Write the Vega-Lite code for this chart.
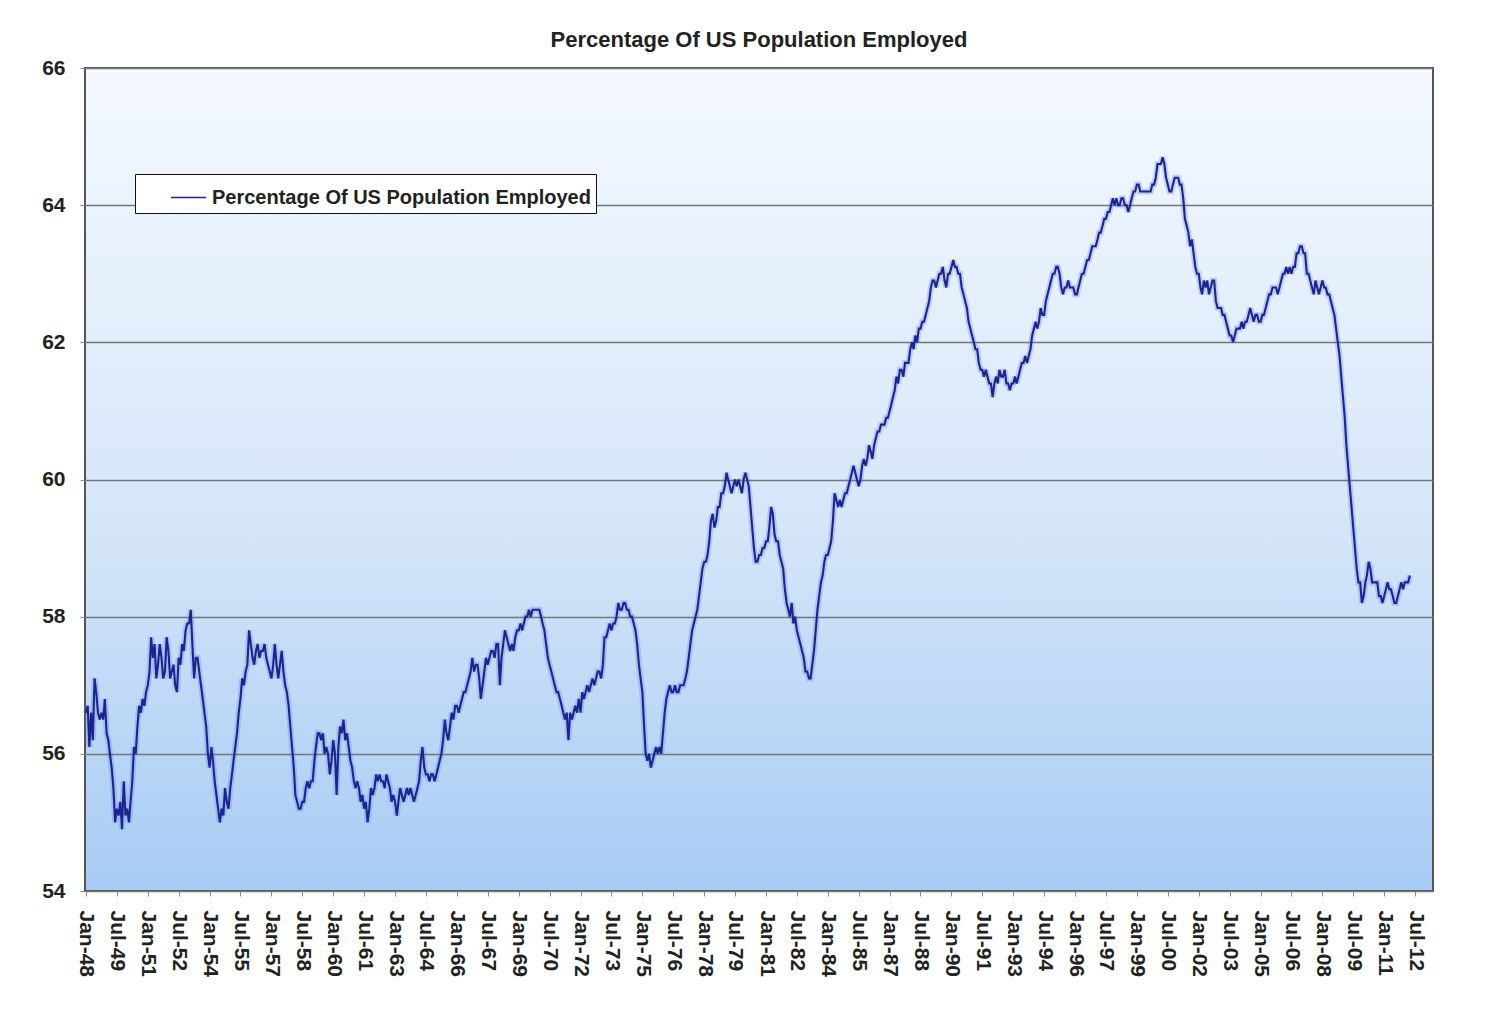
{
  "$schema": "https://vega.github.io/schema/vega-lite/v6.json",
  "width": 1348,
  "height": 823,
  "autosize": {"type": "none"},
  "padding": {"left": 85, "top": 68, "right": 66, "bottom": 143},
  "background": "white",
  "title": {
    "text": "Percentage Of US Population Employed",
    "font": "Liberation Sans",
    "fontSize": 22,
    "fontWeight": "bold",
    "color": "#222222",
    "anchor": "middle",
    "offset": 5
  },
  "config": {
    "font": "Liberation Sans",
    "view": {
      "stroke": "#555555",
      "strokeWidth": 2,
      "fill": {
        "gradient": "linear",
        "x1": 0, "y1": 0, "x2": 0, "y2": 1,
        "stops": [
          {"offset": 0, "color": "#f4f9ff"},
          {"offset": 0.55, "color": "#d6e6f9"},
          {"offset": 1, "color": "#a7cbf4"}
        ]
      }
    }
  },
  "data": {
    "values": [
      {"t":"1948-01","v":56.6},{"t":"1948-02","v":56.7},{"t":"1948-03","v":56.1},{"t":"1948-04","v":56.6},{"t":"1948-05","v":56.2},{"t":"1948-06","v":57.1},{"t":"1948-07","v":56.9},{"t":"1948-08","v":56.6},{"t":"1948-09","v":56.5},{"t":"1948-10","v":56.6},{"t":"1948-11","v":56.5},{"t":"1948-12","v":56.8},
      {"t":"1949-01","v":56.3},{"t":"1949-02","v":56.2},{"t":"1949-03","v":56.0},{"t":"1949-04","v":55.8},{"t":"1949-05","v":55.5},{"t":"1949-06","v":55.0},{"t":"1949-07","v":55.2},{"t":"1949-08","v":55.1},{"t":"1949-09","v":55.3},{"t":"1949-10","v":54.9},{"t":"1949-11","v":55.6},{"t":"1949-12","v":55.1},
      {"t":"1950-01","v":55.2},{"t":"1950-02","v":55.0},{"t":"1950-03","v":55.3},{"t":"1950-04","v":55.6},{"t":"1950-05","v":56.1},{"t":"1950-06","v":56.0},{"t":"1950-07","v":56.4},{"t":"1950-08","v":56.7},{"t":"1950-09","v":56.6},{"t":"1950-10","v":56.8},{"t":"1950-11","v":56.7},{"t":"1950-12","v":56.9},
      {"t":"1951-01","v":57.0},{"t":"1951-02","v":57.2},{"t":"1951-03","v":57.7},{"t":"1951-04","v":57.4},{"t":"1951-05","v":57.6},{"t":"1951-06","v":57.1},{"t":"1951-07","v":57.3},{"t":"1951-08","v":57.6},{"t":"1951-09","v":57.4},{"t":"1951-10","v":57.1},{"t":"1951-11","v":57.2},{"t":"1951-12","v":57.7},
      {"t":"1952-01","v":57.5},{"t":"1952-02","v":57.1},{"t":"1952-03","v":57.2},{"t":"1952-04","v":57.3},{"t":"1952-05","v":57.0},{"t":"1952-06","v":56.9},{"t":"1952-07","v":57.4},{"t":"1952-08","v":57.3},{"t":"1952-09","v":57.6},{"t":"1952-10","v":57.5},{"t":"1952-11","v":57.8},{"t":"1952-12","v":57.9},
      {"t":"1953-01","v":57.9},{"t":"1953-02","v":58.1},{"t":"1953-03","v":57.6},{"t":"1953-04","v":57.1},{"t":"1953-05","v":57.4},{"t":"1953-06","v":57.4},{"t":"1953-07","v":57.2},{"t":"1953-08","v":57.0},{"t":"1953-09","v":56.8},{"t":"1953-10","v":56.6},{"t":"1953-11","v":56.4},{"t":"1953-12","v":56.0},
      {"t":"1954-01","v":55.8},{"t":"1954-02","v":56.1},{"t":"1954-03","v":55.9},{"t":"1954-04","v":55.6},{"t":"1954-05","v":55.4},{"t":"1954-06","v":55.2},{"t":"1954-07","v":55.0},{"t":"1954-08","v":55.2},{"t":"1954-09","v":55.1},{"t":"1954-10","v":55.5},{"t":"1954-11","v":55.3},{"t":"1954-12","v":55.2},
      {"t":"1955-01","v":55.5},{"t":"1955-02","v":55.7},{"t":"1955-03","v":55.9},{"t":"1955-04","v":56.1},{"t":"1955-05","v":56.3},{"t":"1955-06","v":56.6},{"t":"1955-07","v":56.8},{"t":"1955-08","v":57.1},{"t":"1955-09","v":57.0},{"t":"1955-10","v":57.2},{"t":"1955-11","v":57.3},{"t":"1955-12","v":57.8},
      {"t":"1956-01","v":57.6},{"t":"1956-02","v":57.4},{"t":"1956-03","v":57.3},{"t":"1956-04","v":57.5},{"t":"1956-05","v":57.6},{"t":"1956-06","v":57.4},{"t":"1956-07","v":57.5},{"t":"1956-08","v":57.5},{"t":"1956-09","v":57.6},{"t":"1956-10","v":57.4},{"t":"1956-11","v":57.3},{"t":"1956-12","v":57.2},
      {"t":"1957-01","v":57.1},{"t":"1957-02","v":57.3},{"t":"1957-03","v":57.6},{"t":"1957-04","v":57.3},{"t":"1957-05","v":57.1},{"t":"1957-06","v":57.3},{"t":"1957-07","v":57.5},{"t":"1957-08","v":57.2},{"t":"1957-09","v":57.0},{"t":"1957-10","v":56.9},{"t":"1957-11","v":56.7},{"t":"1957-12","v":56.4},
      {"t":"1958-01","v":56.1},{"t":"1958-02","v":55.8},{"t":"1958-03","v":55.4},{"t":"1958-04","v":55.3},{"t":"1958-05","v":55.2},{"t":"1958-06","v":55.2},{"t":"1958-07","v":55.3},{"t":"1958-08","v":55.3},{"t":"1958-09","v":55.5},{"t":"1958-10","v":55.6},{"t":"1958-11","v":55.5},{"t":"1958-12","v":55.6},
      {"t":"1959-01","v":55.6},{"t":"1959-02","v":55.9},{"t":"1959-03","v":56.1},{"t":"1959-04","v":56.3},{"t":"1959-05","v":56.3},{"t":"1959-06","v":56.2},{"t":"1959-07","v":56.3},{"t":"1959-08","v":56.0},{"t":"1959-09","v":56.1},{"t":"1959-10","v":56.0},{"t":"1959-11","v":55.7},{"t":"1959-12","v":55.9},
      {"t":"1960-01","v":56.2},{"t":"1960-02","v":56.0},{"t":"1960-03","v":55.4},{"t":"1960-04","v":56.1},{"t":"1960-05","v":56.4},{"t":"1960-06","v":56.3},{"t":"1960-07","v":56.5},{"t":"1960-08","v":56.2},{"t":"1960-09","v":56.3},{"t":"1960-10","v":56.1},{"t":"1960-11","v":55.9},{"t":"1960-12","v":55.8},
      {"t":"1961-01","v":55.6},{"t":"1961-02","v":55.5},{"t":"1961-03","v":55.6},{"t":"1961-04","v":55.5},{"t":"1961-05","v":55.3},{"t":"1961-06","v":55.4},{"t":"1961-07","v":55.2},{"t":"1961-08","v":55.3},{"t":"1961-09","v":55.0},{"t":"1961-10","v":55.2},{"t":"1961-11","v":55.5},{"t":"1961-12","v":55.4},
      {"t":"1962-01","v":55.5},{"t":"1962-02","v":55.7},{"t":"1962-03","v":55.6},{"t":"1962-04","v":55.7},{"t":"1962-05","v":55.6},{"t":"1962-06","v":55.6},{"t":"1962-07","v":55.5},{"t":"1962-08","v":55.7},{"t":"1962-09","v":55.6},{"t":"1962-10","v":55.5},{"t":"1962-11","v":55.3},{"t":"1962-12","v":55.4},
      {"t":"1963-01","v":55.3},{"t":"1963-02","v":55.1},{"t":"1963-03","v":55.3},{"t":"1963-04","v":55.5},{"t":"1963-05","v":55.4},{"t":"1963-06","v":55.3},{"t":"1963-07","v":55.4},{"t":"1963-08","v":55.5},{"t":"1963-09","v":55.4},{"t":"1963-10","v":55.5},{"t":"1963-11","v":55.4},{"t":"1963-12","v":55.3},
      {"t":"1964-01","v":55.4},{"t":"1964-02","v":55.5},{"t":"1964-03","v":55.6},{"t":"1964-04","v":55.9},{"t":"1964-05","v":56.1},{"t":"1964-06","v":55.8},{"t":"1964-07","v":55.7},{"t":"1964-08","v":55.7},{"t":"1964-09","v":55.6},{"t":"1964-10","v":55.7},{"t":"1964-11","v":55.7},{"t":"1964-12","v":55.6},
      {"t":"1965-01","v":55.7},{"t":"1965-02","v":55.8},{"t":"1965-03","v":55.9},{"t":"1965-04","v":56.0},{"t":"1965-05","v":56.2},{"t":"1965-06","v":56.5},{"t":"1965-07","v":56.3},{"t":"1965-08","v":56.2},{"t":"1965-09","v":56.4},{"t":"1965-10","v":56.6},{"t":"1965-11","v":56.5},{"t":"1965-12","v":56.7},
      {"t":"1966-01","v":56.7},{"t":"1966-02","v":56.6},{"t":"1966-03","v":56.7},{"t":"1966-04","v":56.8},{"t":"1966-05","v":56.9},{"t":"1966-06","v":56.9},{"t":"1966-07","v":57.0},{"t":"1966-08","v":57.1},{"t":"1966-09","v":57.2},{"t":"1966-10","v":57.4},{"t":"1966-11","v":57.2},{"t":"1966-12","v":57.3},
      {"t":"1967-01","v":57.3},{"t":"1967-02","v":57.1},{"t":"1967-03","v":56.8},{"t":"1967-04","v":57.0},{"t":"1967-05","v":57.2},{"t":"1967-06","v":57.4},{"t":"1967-07","v":57.3},{"t":"1967-08","v":57.4},{"t":"1967-09","v":57.5},{"t":"1967-10","v":57.5},{"t":"1967-11","v":57.4},{"t":"1967-12","v":57.6},
      {"t":"1968-01","v":57.6},{"t":"1968-02","v":57.0},{"t":"1968-03","v":57.4},{"t":"1968-04","v":57.6},{"t":"1968-05","v":57.8},{"t":"1968-06","v":57.7},{"t":"1968-07","v":57.6},{"t":"1968-08","v":57.5},{"t":"1968-09","v":57.6},{"t":"1968-10","v":57.5},{"t":"1968-11","v":57.7},{"t":"1968-12","v":57.8},
      {"t":"1969-01","v":57.8},{"t":"1969-02","v":57.9},{"t":"1969-03","v":57.8},{"t":"1969-04","v":57.9},{"t":"1969-05","v":58.0},{"t":"1969-06","v":58.0},{"t":"1969-07","v":58.1},{"t":"1969-08","v":58.0},{"t":"1969-09","v":58.1},{"t":"1969-10","v":58.1},{"t":"1969-11","v":58.1},{"t":"1969-12","v":58.1},
      {"t":"1970-01","v":58.1},{"t":"1970-02","v":58.0},{"t":"1970-03","v":57.9},{"t":"1970-04","v":57.8},{"t":"1970-05","v":57.6},{"t":"1970-06","v":57.4},{"t":"1970-07","v":57.3},{"t":"1970-08","v":57.2},{"t":"1970-09","v":57.1},{"t":"1970-10","v":57.0},{"t":"1970-11","v":56.9},{"t":"1970-12","v":56.9},
      {"t":"1971-01","v":56.8},{"t":"1971-02","v":56.7},{"t":"1971-03","v":56.6},{"t":"1971-04","v":56.5},{"t":"1971-05","v":56.6},{"t":"1971-06","v":56.2},{"t":"1971-07","v":56.6},{"t":"1971-08","v":56.5},{"t":"1971-09","v":56.6},{"t":"1971-10","v":56.7},{"t":"1971-11","v":56.6},{"t":"1971-12","v":56.8},
      {"t":"1972-01","v":56.6},{"t":"1972-02","v":56.9},{"t":"1972-03","v":56.8},{"t":"1972-04","v":56.9},{"t":"1972-05","v":57.0},{"t":"1972-06","v":56.9},{"t":"1972-07","v":57.0},{"t":"1972-08","v":57.1},{"t":"1972-09","v":57.0},{"t":"1972-10","v":57.1},{"t":"1972-11","v":57.2},{"t":"1972-12","v":57.2},
      {"t":"1973-01","v":57.1},{"t":"1973-02","v":57.3},{"t":"1973-03","v":57.7},{"t":"1973-04","v":57.7},{"t":"1973-05","v":57.8},{"t":"1973-06","v":57.9},{"t":"1973-07","v":57.8},{"t":"1973-08","v":57.9},{"t":"1973-09","v":57.9},{"t":"1973-10","v":58.0},{"t":"1973-11","v":58.2},{"t":"1973-12","v":58.1},
      {"t":"1974-01","v":58.1},{"t":"1974-02","v":58.2},{"t":"1974-03","v":58.2},{"t":"1974-04","v":58.1},{"t":"1974-05","v":58.1},{"t":"1974-06","v":58.0},{"t":"1974-07","v":58.0},{"t":"1974-08","v":57.9},{"t":"1974-09","v":57.8},{"t":"1974-10","v":57.6},{"t":"1974-11","v":57.3},{"t":"1974-12","v":57.1},
      {"t":"1975-01","v":56.9},{"t":"1975-02","v":56.4},{"t":"1975-03","v":56.0},{"t":"1975-04","v":55.9},{"t":"1975-05","v":56.0},{"t":"1975-06","v":55.8},{"t":"1975-07","v":55.9},{"t":"1975-08","v":56.0},{"t":"1975-09","v":56.1},{"t":"1975-10","v":56.0},{"t":"1975-11","v":56.1},{"t":"1975-12","v":56.0},
      {"t":"1976-01","v":56.3},{"t":"1976-02","v":56.6},{"t":"1976-03","v":56.8},{"t":"1976-04","v":56.9},{"t":"1976-05","v":57.0},{"t":"1976-06","v":56.9},{"t":"1976-07","v":56.9},{"t":"1976-08","v":57.0},{"t":"1976-09","v":56.9},{"t":"1976-10","v":56.9},{"t":"1976-11","v":57.0},{"t":"1976-12","v":57.0},
      {"t":"1977-01","v":57.0},{"t":"1977-02","v":57.1},{"t":"1977-03","v":57.2},{"t":"1977-04","v":57.4},{"t":"1977-05","v":57.6},{"t":"1977-06","v":57.8},{"t":"1977-07","v":57.9},{"t":"1977-08","v":58.0},{"t":"1977-09","v":58.1},{"t":"1977-10","v":58.3},{"t":"1977-11","v":58.5},{"t":"1977-12","v":58.7},
      {"t":"1978-01","v":58.8},{"t":"1978-02","v":58.8},{"t":"1978-03","v":58.9},{"t":"1978-04","v":59.1},{"t":"1978-05","v":59.4},{"t":"1978-06","v":59.5},{"t":"1978-07","v":59.3},{"t":"1978-08","v":59.4},{"t":"1978-09","v":59.6},{"t":"1978-10","v":59.6},{"t":"1978-11","v":59.8},{"t":"1978-12","v":59.8},
      {"t":"1979-01","v":59.9},{"t":"1979-02","v":60.1},{"t":"1979-03","v":60.0},{"t":"1979-04","v":59.9},{"t":"1979-05","v":59.8},{"t":"1979-06","v":59.9},{"t":"1979-07","v":60.0},{"t":"1979-08","v":59.9},{"t":"1979-09","v":60.0},{"t":"1979-10","v":59.9},{"t":"1979-11","v":59.8},{"t":"1979-12","v":60.0},
      {"t":"1980-01","v":60.1},{"t":"1980-02","v":60.0},{"t":"1980-03","v":59.9},{"t":"1980-04","v":59.6},{"t":"1980-05","v":59.3},{"t":"1980-06","v":59.0},{"t":"1980-07","v":58.8},{"t":"1980-08","v":58.8},{"t":"1980-09","v":58.9},{"t":"1980-10","v":58.9},{"t":"1980-11","v":59.0},{"t":"1980-12","v":59.0},
      {"t":"1981-01","v":59.1},{"t":"1981-02","v":59.1},{"t":"1981-03","v":59.3},{"t":"1981-04","v":59.6},{"t":"1981-05","v":59.5},{"t":"1981-06","v":59.2},{"t":"1981-07","v":59.1},{"t":"1981-08","v":59.1},{"t":"1981-09","v":58.9},{"t":"1981-10","v":58.8},{"t":"1981-11","v":58.7},{"t":"1981-12","v":58.4},
      {"t":"1982-01","v":58.2},{"t":"1982-02","v":58.1},{"t":"1982-03","v":58.0},{"t":"1982-04","v":58.2},{"t":"1982-05","v":57.9},{"t":"1982-06","v":58.0},{"t":"1982-07","v":57.8},{"t":"1982-08","v":57.7},{"t":"1982-09","v":57.6},{"t":"1982-10","v":57.5},{"t":"1982-11","v":57.4},{"t":"1982-12","v":57.2},
      {"t":"1983-01","v":57.2},{"t":"1983-02","v":57.1},{"t":"1983-03","v":57.1},{"t":"1983-04","v":57.3},{"t":"1983-05","v":57.5},{"t":"1983-06","v":57.8},{"t":"1983-07","v":58.1},{"t":"1983-08","v":58.3},{"t":"1983-09","v":58.5},{"t":"1983-10","v":58.6},{"t":"1983-11","v":58.8},{"t":"1983-12","v":58.9},
      {"t":"1984-01","v":58.9},{"t":"1984-02","v":59.0},{"t":"1984-03","v":59.1},{"t":"1984-04","v":59.4},{"t":"1984-05","v":59.8},{"t":"1984-06","v":59.7},{"t":"1984-07","v":59.6},{"t":"1984-08","v":59.7},{"t":"1984-09","v":59.6},{"t":"1984-10","v":59.7},{"t":"1984-11","v":59.8},{"t":"1984-12","v":59.8},
      {"t":"1985-01","v":59.9},{"t":"1985-02","v":60.0},{"t":"1985-03","v":60.1},{"t":"1985-04","v":60.2},{"t":"1985-05","v":60.1},{"t":"1985-06","v":60.0},{"t":"1985-07","v":59.9},{"t":"1985-08","v":60.0},{"t":"1985-09","v":60.2},{"t":"1985-10","v":60.3},{"t":"1985-11","v":60.2},{"t":"1985-12","v":60.3},
      {"t":"1986-01","v":60.5},{"t":"1986-02","v":60.4},{"t":"1986-03","v":60.3},{"t":"1986-04","v":60.5},{"t":"1986-05","v":60.6},{"t":"1986-06","v":60.7},{"t":"1986-07","v":60.7},{"t":"1986-08","v":60.8},{"t":"1986-09","v":60.8},{"t":"1986-10","v":60.8},{"t":"1986-11","v":60.9},{"t":"1986-12","v":60.9},
      {"t":"1987-01","v":61.0},{"t":"1987-02","v":61.1},{"t":"1987-03","v":61.2},{"t":"1987-04","v":61.3},{"t":"1987-05","v":61.5},{"t":"1987-06","v":61.4},{"t":"1987-07","v":61.6},{"t":"1987-08","v":61.6},{"t":"1987-09","v":61.5},{"t":"1987-10","v":61.7},{"t":"1987-11","v":61.7},{"t":"1987-12","v":61.7},
      {"t":"1988-01","v":61.9},{"t":"1988-02","v":62.0},{"t":"1988-03","v":61.9},{"t":"1988-04","v":62.1},{"t":"1988-05","v":62.0},{"t":"1988-06","v":62.2},{"t":"1988-07","v":62.2},{"t":"1988-08","v":62.3},{"t":"1988-09","v":62.3},{"t":"1988-10","v":62.4},{"t":"1988-11","v":62.5},{"t":"1988-12","v":62.6},
      {"t":"1989-01","v":62.8},{"t":"1989-02","v":62.9},{"t":"1989-03","v":62.9},{"t":"1989-04","v":62.8},{"t":"1989-05","v":62.9},{"t":"1989-06","v":63.0},{"t":"1989-07","v":63.0},{"t":"1989-08","v":63.1},{"t":"1989-09","v":62.9},{"t":"1989-10","v":62.8},{"t":"1989-11","v":63.0},{"t":"1989-12","v":63.0},
      {"t":"1990-01","v":63.1},{"t":"1990-02","v":63.2},{"t":"1990-03","v":63.1},{"t":"1990-04","v":63.1},{"t":"1990-05","v":63.0},{"t":"1990-06","v":63.0},{"t":"1990-07","v":62.8},{"t":"1990-08","v":62.7},{"t":"1990-09","v":62.6},{"t":"1990-10","v":62.5},{"t":"1990-11","v":62.3},{"t":"1990-12","v":62.2},
      {"t":"1991-01","v":62.1},{"t":"1991-02","v":62.0},{"t":"1991-03","v":61.9},{"t":"1991-04","v":61.9},{"t":"1991-05","v":61.7},{"t":"1991-06","v":61.6},{"t":"1991-07","v":61.6},{"t":"1991-08","v":61.5},{"t":"1991-09","v":61.6},{"t":"1991-10","v":61.5},{"t":"1991-11","v":61.4},{"t":"1991-12","v":61.4},
      {"t":"1992-01","v":61.2},{"t":"1992-02","v":61.4},{"t":"1992-03","v":61.5},{"t":"1992-04","v":61.4},{"t":"1992-05","v":61.6},{"t":"1992-06","v":61.5},{"t":"1992-07","v":61.5},{"t":"1992-08","v":61.6},{"t":"1992-09","v":61.4},{"t":"1992-10","v":61.4},{"t":"1992-11","v":61.3},{"t":"1992-12","v":61.4},
      {"t":"1993-01","v":61.4},{"t":"1993-02","v":61.5},{"t":"1993-03","v":61.4},{"t":"1993-04","v":61.5},{"t":"1993-05","v":61.6},{"t":"1993-06","v":61.7},{"t":"1993-07","v":61.7},{"t":"1993-08","v":61.8},{"t":"1993-09","v":61.7},{"t":"1993-10","v":61.8},{"t":"1993-11","v":61.9},{"t":"1993-12","v":62.1},
      {"t":"1994-01","v":62.2},{"t":"1994-02","v":62.3},{"t":"1994-03","v":62.2},{"t":"1994-04","v":62.3},{"t":"1994-05","v":62.5},{"t":"1994-06","v":62.4},{"t":"1994-07","v":62.4},{"t":"1994-08","v":62.6},{"t":"1994-09","v":62.7},{"t":"1994-10","v":62.8},{"t":"1994-11","v":62.9},{"t":"1994-12","v":63.0},
      {"t":"1995-01","v":63.0},{"t":"1995-02","v":63.1},{"t":"1995-03","v":63.1},{"t":"1995-04","v":63.0},{"t":"1995-05","v":62.8},{"t":"1995-06","v":62.7},{"t":"1995-07","v":62.8},{"t":"1995-08","v":62.8},{"t":"1995-09","v":62.9},{"t":"1995-10","v":62.8},{"t":"1995-11","v":62.8},{"t":"1995-12","v":62.8},
      {"t":"1996-01","v":62.7},{"t":"1996-02","v":62.7},{"t":"1996-03","v":62.8},{"t":"1996-04","v":62.9},{"t":"1996-05","v":63.0},{"t":"1996-06","v":63.0},{"t":"1996-07","v":63.1},{"t":"1996-08","v":63.2},{"t":"1996-09","v":63.2},{"t":"1996-10","v":63.3},{"t":"1996-11","v":63.4},{"t":"1996-12","v":63.4},
      {"t":"1997-01","v":63.4},{"t":"1997-02","v":63.5},{"t":"1997-03","v":63.6},{"t":"1997-04","v":63.6},{"t":"1997-05","v":63.7},{"t":"1997-06","v":63.8},{"t":"1997-07","v":63.8},{"t":"1997-08","v":63.9},{"t":"1997-09","v":63.9},{"t":"1997-10","v":64.0},{"t":"1997-11","v":64.1},{"t":"1997-12","v":64.0},
      {"t":"1998-01","v":64.1},{"t":"1998-02","v":64.0},{"t":"1998-03","v":64.0},{"t":"1998-04","v":64.1},{"t":"1998-05","v":64.1},{"t":"1998-06","v":64.0},{"t":"1998-07","v":64.0},{"t":"1998-08","v":63.9},{"t":"1998-09","v":64.0},{"t":"1998-10","v":64.1},{"t":"1998-11","v":64.2},{"t":"1998-12","v":64.2},
      {"t":"1999-01","v":64.3},{"t":"1999-02","v":64.3},{"t":"1999-03","v":64.2},{"t":"1999-04","v":64.2},{"t":"1999-05","v":64.2},{"t":"1999-06","v":64.2},{"t":"1999-07","v":64.2},{"t":"1999-08","v":64.2},{"t":"1999-09","v":64.2},{"t":"1999-10","v":64.3},{"t":"1999-11","v":64.3},{"t":"1999-12","v":64.4},
      {"t":"2000-01","v":64.6},{"t":"2000-02","v":64.6},{"t":"2000-03","v":64.6},{"t":"2000-04","v":64.7},{"t":"2000-05","v":64.6},{"t":"2000-06","v":64.4},{"t":"2000-07","v":64.3},{"t":"2000-08","v":64.2},{"t":"2000-09","v":64.2},{"t":"2000-10","v":64.3},{"t":"2000-11","v":64.4},{"t":"2000-12","v":64.4},
      {"t":"2001-01","v":64.4},{"t":"2001-02","v":64.3},{"t":"2001-03","v":64.3},{"t":"2001-04","v":64.1},{"t":"2001-05","v":63.8},{"t":"2001-06","v":63.7},{"t":"2001-07","v":63.6},{"t":"2001-08","v":63.4},{"t":"2001-09","v":63.5},{"t":"2001-10","v":63.3},{"t":"2001-11","v":63.1},{"t":"2001-12","v":63.0},
      {"t":"2002-01","v":63.0},{"t":"2002-02","v":62.8},{"t":"2002-03","v":62.7},{"t":"2002-04","v":62.9},{"t":"2002-05","v":62.8},{"t":"2002-06","v":62.9},{"t":"2002-07","v":62.7},{"t":"2002-08","v":62.8},{"t":"2002-09","v":62.9},{"t":"2002-10","v":62.9},{"t":"2002-11","v":62.6},{"t":"2002-12","v":62.5},
      {"t":"2003-01","v":62.5},{"t":"2003-02","v":62.5},{"t":"2003-03","v":62.4},{"t":"2003-04","v":62.4},{"t":"2003-05","v":62.3},{"t":"2003-06","v":62.2},{"t":"2003-07","v":62.1},{"t":"2003-08","v":62.1},{"t":"2003-09","v":62.0},{"t":"2003-10","v":62.1},{"t":"2003-11","v":62.2},{"t":"2003-12","v":62.2},
      {"t":"2004-01","v":62.2},{"t":"2004-02","v":62.3},{"t":"2004-03","v":62.2},{"t":"2004-04","v":62.3},{"t":"2004-05","v":62.3},{"t":"2004-06","v":62.4},{"t":"2004-07","v":62.5},{"t":"2004-08","v":62.4},{"t":"2004-09","v":62.3},{"t":"2004-10","v":62.4},{"t":"2004-11","v":62.4},{"t":"2004-12","v":62.3},
      {"t":"2005-01","v":62.3},{"t":"2005-02","v":62.4},{"t":"2005-03","v":62.4},{"t":"2005-04","v":62.5},{"t":"2005-05","v":62.6},{"t":"2005-06","v":62.7},{"t":"2005-07","v":62.7},{"t":"2005-08","v":62.8},{"t":"2005-09","v":62.8},{"t":"2005-10","v":62.8},{"t":"2005-11","v":62.7},{"t":"2005-12","v":62.8},
      {"t":"2006-01","v":62.9},{"t":"2006-02","v":63.0},{"t":"2006-03","v":63.0},{"t":"2006-04","v":63.1},{"t":"2006-05","v":63.0},{"t":"2006-06","v":63.1},{"t":"2006-07","v":63.0},{"t":"2006-08","v":63.1},{"t":"2006-09","v":63.1},{"t":"2006-10","v":63.3},{"t":"2006-11","v":63.3},{"t":"2006-12","v":63.4},
      {"t":"2007-01","v":63.4},{"t":"2007-02","v":63.3},{"t":"2007-03","v":63.3},{"t":"2007-04","v":63.0},{"t":"2007-05","v":63.0},{"t":"2007-06","v":62.9},{"t":"2007-07","v":62.8},{"t":"2007-08","v":62.7},{"t":"2007-09","v":62.9},{"t":"2007-10","v":62.8},{"t":"2007-11","v":62.7},{"t":"2007-12","v":62.8},
      {"t":"2008-01","v":62.9},{"t":"2008-02","v":62.8},{"t":"2008-03","v":62.8},{"t":"2008-04","v":62.7},{"t":"2008-05","v":62.7},{"t":"2008-06","v":62.6},{"t":"2008-07","v":62.5},{"t":"2008-08","v":62.4},{"t":"2008-09","v":62.2},{"t":"2008-10","v":62.0},{"t":"2008-11","v":61.8},{"t":"2008-12","v":61.5},
      {"t":"2009-01","v":61.2},{"t":"2009-02","v":60.9},{"t":"2009-03","v":60.5},{"t":"2009-04","v":60.2},{"t":"2009-05","v":59.9},{"t":"2009-06","v":59.6},{"t":"2009-07","v":59.3},{"t":"2009-08","v":59.0},{"t":"2009-09","v":58.7},{"t":"2009-10","v":58.5},{"t":"2009-11","v":58.5},{"t":"2009-12","v":58.2},
      {"t":"2010-01","v":58.3},{"t":"2010-02","v":58.5},{"t":"2010-03","v":58.6},{"t":"2010-04","v":58.8},{"t":"2010-05","v":58.7},{"t":"2010-06","v":58.5},{"t":"2010-07","v":58.5},{"t":"2010-08","v":58.5},{"t":"2010-09","v":58.5},{"t":"2010-10","v":58.3},{"t":"2010-11","v":58.3},{"t":"2010-12","v":58.2},
      {"t":"2011-01","v":58.3},{"t":"2011-02","v":58.4},{"t":"2011-03","v":58.5},{"t":"2011-04","v":58.4},{"t":"2011-05","v":58.4},{"t":"2011-06","v":58.3},{"t":"2011-07","v":58.2},{"t":"2011-08","v":58.2},{"t":"2011-09","v":58.3},{"t":"2011-10","v":58.4},{"t":"2011-11","v":58.5},{"t":"2011-12","v":58.4},
      {"t":"2012-01","v":58.5},{"t":"2012-02","v":58.5},{"t":"2012-03","v":58.5},{"t":"2012-04","v":58.6}
    ]
  },
  "encoding": {
    "x": {
      "field": "t",
      "type": "temporal",
      "scale": {
        "type": "utc",
        "domain": [
          {"year": 1947, "month": 12, "date": 15, "utc": true},
          {"year": 2013, "month": 5, "date": 15, "utc": true}
        ]
      },
      "axis": {
        "title": null,
        "format": "%b-%y",
        "values": [
          {"year": 1948, "month": 1, "utc": true}, {"year": 1949, "month": 7, "utc": true},
          {"year": 1951, "month": 1, "utc": true}, {"year": 1952, "month": 7, "utc": true},
          {"year": 1954, "month": 1, "utc": true}, {"year": 1955, "month": 7, "utc": true},
          {"year": 1957, "month": 1, "utc": true}, {"year": 1958, "month": 7, "utc": true},
          {"year": 1960, "month": 1, "utc": true}, {"year": 1961, "month": 7, "utc": true},
          {"year": 1963, "month": 1, "utc": true}, {"year": 1964, "month": 7, "utc": true},
          {"year": 1966, "month": 1, "utc": true}, {"year": 1967, "month": 7, "utc": true},
          {"year": 1969, "month": 1, "utc": true}, {"year": 1970, "month": 7, "utc": true},
          {"year": 1972, "month": 1, "utc": true}, {"year": 1973, "month": 7, "utc": true},
          {"year": 1975, "month": 1, "utc": true}, {"year": 1976, "month": 7, "utc": true},
          {"year": 1978, "month": 1, "utc": true}, {"year": 1979, "month": 7, "utc": true},
          {"year": 1981, "month": 1, "utc": true}, {"year": 1982, "month": 7, "utc": true},
          {"year": 1984, "month": 1, "utc": true}, {"year": 1985, "month": 7, "utc": true},
          {"year": 1987, "month": 1, "utc": true}, {"year": 1988, "month": 7, "utc": true},
          {"year": 1990, "month": 1, "utc": true}, {"year": 1991, "month": 7, "utc": true},
          {"year": 1993, "month": 1, "utc": true}, {"year": 1994, "month": 7, "utc": true},
          {"year": 1996, "month": 1, "utc": true}, {"year": 1997, "month": 7, "utc": true},
          {"year": 1999, "month": 1, "utc": true}, {"year": 2000, "month": 7, "utc": true},
          {"year": 2002, "month": 1, "utc": true}, {"year": 2003, "month": 7, "utc": true},
          {"year": 2005, "month": 1, "utc": true}, {"year": 2006, "month": 7, "utc": true},
          {"year": 2008, "month": 1, "utc": true}, {"year": 2009, "month": 7, "utc": true},
          {"year": 2011, "month": 1, "utc": true}, {"year": 2012, "month": 7, "utc": true}
        ],
        "labelAngle": 90,
        "labelFontSize": 21,
        "labelFontWeight": "bold",
        "labelColor": "#222222",
        "labelPadding": 14,
        "labelOverlap": false,
        "labelFlush": false,
        "labelBound": false,
        "tickSize": 5,
        "tickColor": "#8a8a8a",
        "domain": false,
        "grid": false
      }
    },
    "y": {
      "field": "v",
      "type": "quantitative",
      "scale": {"domain": [54, 66], "nice": false, "zero": false},
      "axis": {
        "title": null,
        "values": [54, 56, 58, 60, 62, 64, 66],
        "labelFontSize": 21,
        "labelFontWeight": "bold",
        "labelColor": "#222222",
        "labelPadding": 15,
        "labelFlush": false,
        "tickSize": 5,
        "tickColor": "#8a8a8a",
        "domain": false,
        "grid": true,
        "gridColor": "#767676",
        "gridWidth": 1.7
      }
    }
  },
  "layer": [
    {
      "mark": {"type": "line", "color": "#5a74e4", "strokeWidth": 6, "opacity": 0.28}
    },
    {
      "mark": {"type": "line", "strokeWidth": 2.1},
      "encoding": {
        "color": {
          "datum": "Percentage Of US Population Employed",
          "scale": {"range": ["#1c258e"]},
          "legend": {
            "title": null,
            "orient": "none",
            "legendX": 50,
            "legendY": 106,
            "padding": 5,
            "fillColor": "#ffffff",
            "strokeColor": "#111111",
            "symbolType": "stroke",
            "symbolSize": 1225,
            "symbolStrokeWidth": 1.5,
            "symbolStrokeColor": "#5656ad",
            "symbolOffset": 30,
            "labelOffset": 5,
            "labelFontSize": 20,
            "labelFontWeight": "bold",
            "labelColor": "#222222",
            "labelLimit": 0
          }
        }
      }
    }
  ]
}
